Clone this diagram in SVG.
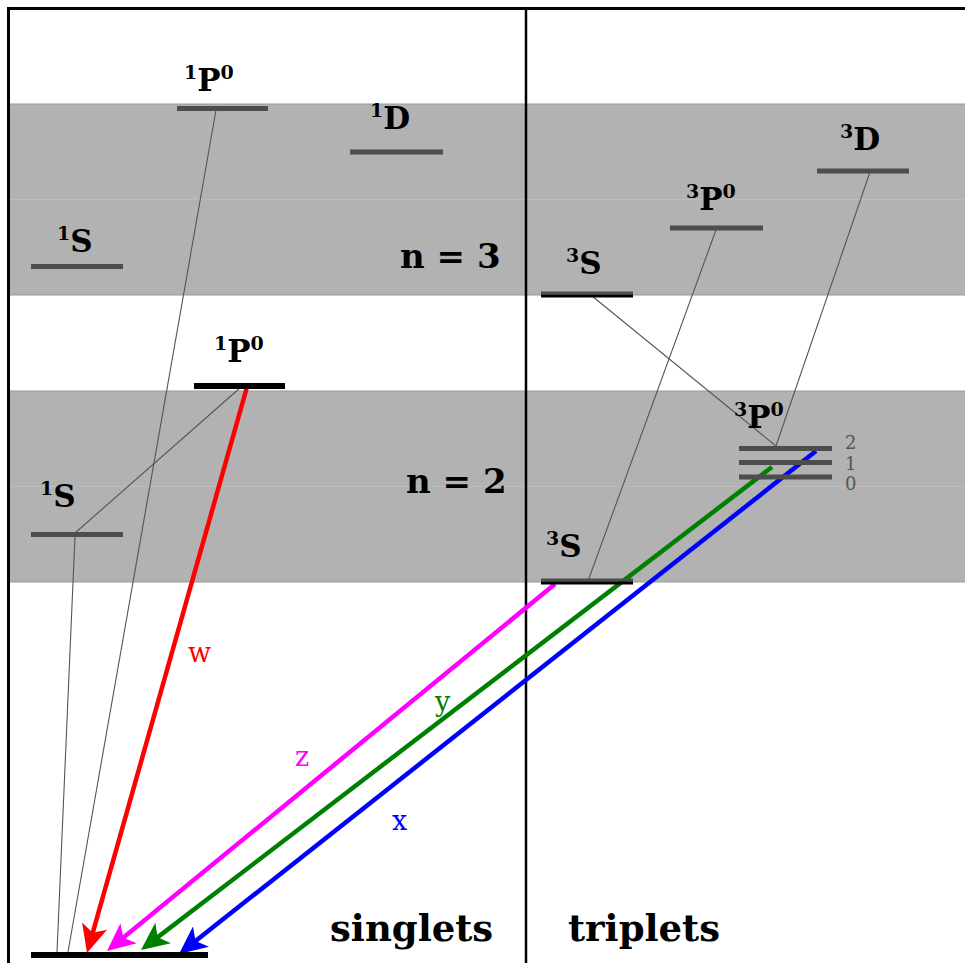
<svg xmlns="http://www.w3.org/2000/svg" width="965" height="963" viewBox="0 0 965 963">
<style>
.band{fill:#b2b2b2}
.edge{stroke:#999;stroke-width:1}
.mid{stroke:#bcbcbc;stroke-width:1}
.lvl{stroke:#4d4d4d;stroke-width:5}
.blk{stroke:#000;stroke-width:6}
.thin{stroke:#555;stroke-width:1.1;fill:none}
.lbl{font-family:"DejaVu Serif","Liberation Serif",serif;font-weight:bold;font-size:31px;fill:#000}
.sup{font-size:19px}
.big{font-family:"DejaVu Serif","Liberation Serif",serif;font-weight:bold;font-size:34px;fill:#000}
.ttl{font-family:"DejaVu Serif","Liberation Serif",serif;font-weight:bold;font-size:37px;fill:#000}
.j{font-family:"DejaVu Serif","Liberation Serif",serif;font-size:18px;fill:#555}
.tl{font-family:"DejaVu Serif","Liberation Serif",serif;font-size:27px}
.arr{stroke-width:4.5;fill:none}
</style>
<defs>
<marker id="hr" viewBox="0 0 28 26" refX="13" refY="13" markerWidth="28" markerHeight="26" markerUnits="userSpaceOnUse" orient="auto"><path d="M28,13 L0,0 L7,13 L0,26 z" fill="#f00"/></marker>
<marker id="hm" viewBox="0 0 28 26" refX="13" refY="13" markerWidth="28" markerHeight="26" markerUnits="userSpaceOnUse" orient="auto"><path d="M28,13 L0,0 L7,13 L0,26 z" fill="#f0f"/></marker>
<marker id="hg" viewBox="0 0 28 26" refX="13" refY="13" markerWidth="28" markerHeight="26" markerUnits="userSpaceOnUse" orient="auto"><path d="M28,13 L0,0 L7,13 L0,26 z" fill="#008000"/></marker>
<marker id="hb" viewBox="0 0 28 26" refX="13" refY="13" markerWidth="28" markerHeight="26" markerUnits="userSpaceOnUse" orient="auto"><path d="M28,13 L0,0 L7,13 L0,26 z" fill="#00f"/></marker>
</defs>
<rect width="965" height="963" fill="#fff"/>
<g id="bands">
<rect class="band" x="9" y="104" width="956" height="191"/>
<line class="edge" x1="9" y1="104" x2="965" y2="104"/>
<line class="edge" x1="9" y1="295" x2="965" y2="295"/>
<line class="mid" x1="9" y1="199.5" x2="965" y2="199.5"/>
<rect class="band" x="9" y="391" width="956" height="191"/>
<line class="edge" x1="9" y1="391" x2="965" y2="391"/>
<line class="edge" x1="9" y1="582" x2="965" y2="582"/>
<line class="mid" x1="9" y1="486.5" x2="965" y2="486.5"/>
</g>
<g id="frame" stroke="#000" fill="none">
<path d="M8.5,963 V8.5 H965" stroke-width="3"/>
<line x1="526" y1="8" x2="526" y2="963" stroke-width="2.5"/>
</g>
<g id="connectors">
<line class="thin" x1="216" y1="110" x2="68" y2="952"/>
<line class="thin" x1="75" y1="536" x2="57" y2="952"/>
<line class="thin" x1="240" y1="388" x2="75" y2="533"/>
<line class="thin" x1="592" y1="296" x2="776" y2="446"/>
<line class="thin" x1="870" y1="172" x2="776" y2="446"/>
<line class="thin" x1="716" y1="230" x2="588" y2="581"/>
<line class="arr" stroke="#f00" x1="247" y1="387" x2="91.1" y2="938.6" marker-end="url(#hr)"/>
<line class="arr" stroke="#f0f" x1="555" y1="584" x2="118.6" y2="941.5" marker-end="url(#hm)"/>
<line class="arr" stroke="#008000" x1="772" y1="467" x2="152.9" y2="940.9" marker-end="url(#hg)"/>
<line class="arr" stroke="#00f" x1="816" y1="451" x2="190.8" y2="944.7" marker-end="url(#hb)"/>
<text class="tl" x="188" y="662" fill="#f00">w</text>
<text class="tl" x="295" y="766" fill="#f0f">z</text>
<text class="tl" x="435" y="711" fill="#008000">y</text>
<text class="tl" x="392" y="830" fill="#00f">x</text>
</g>
<g id="s3P">
<line class="lvl" x1="177" y1="108.5" x2="268" y2="108.5"/>
<text class="lbl" x="184" y="91"><tspan class="sup" dy="-12">1</tspan><tspan dy="12">P</tspan><tspan class="sup" dy="-12">0</tspan></text>
</g>
<g id="s3D">
<line class="lvl" x1="350" y1="152" x2="443" y2="152"/>
<text class="lbl" x="370" y="129"><tspan class="sup" dy="-12">1</tspan><tspan dy="12">D</tspan></text>
</g>
<g id="s3S">
<line class="lvl" x1="31" y1="266.5" x2="123" y2="266.5"/>
<text class="lbl" x="57" y="252"><tspan class="sup" dy="-12">1</tspan><tspan dy="12">S</tspan></text>
</g>
<g id="n3label"><text class="big" x="400" y="268">n = 3</text></g>
<g id="t3S">
<line stroke="#4d4d4d" stroke-width="3" x1="541" y1="293" x2="633" y2="293"/>
<line stroke="#000" stroke-width="3" x1="541" y1="296" x2="633" y2="296"/>
<text class="lbl" x="566" y="274"><tspan class="sup" dy="-12">3</tspan><tspan dy="12">S</tspan></text>
</g>
<g id="t3P">
<line class="lvl" x1="670" y1="228" x2="763" y2="228"/>
<text class="lbl" x="686" y="210"><tspan class="sup" dy="-12">3</tspan><tspan dy="12">P</tspan><tspan class="sup" dy="-12">0</tspan></text>
</g>
<g id="t3D">
<line class="lvl" x1="817" y1="171" x2="909" y2="171"/>
<text class="lbl" x="840" y="150"><tspan class="sup" dy="-12">3</tspan><tspan dy="12">D</tspan></text>
</g>
<g id="s2P">
<line class="blk" x1="194" y1="386" x2="285" y2="386"/>
<text class="lbl" x="214" y="362"><tspan class="sup" dy="-12">1</tspan><tspan dy="12">P</tspan><tspan class="sup" dy="-12">0</tspan></text>
</g>
<g id="s2S">
<line class="lvl" x1="31" y1="534.5" x2="123" y2="534.5"/>
<text class="lbl" x="40" y="507"><tspan class="sup" dy="-12">1</tspan><tspan dy="12">S</tspan></text>
</g>
<g id="n2label"><text class="big" x="406" y="493">n = 2</text></g>
<g id="t2S">
<line stroke="#4d4d4d" stroke-width="3" x1="541" y1="580" x2="633" y2="580"/>
<line stroke="#000" stroke-width="3" x1="541" y1="583" x2="633" y2="583"/>
<text class="lbl" x="546" y="557"><tspan class="sup" dy="-12">3</tspan><tspan dy="12">S</tspan></text>
</g>
<g id="t2P">
<line class="lvl" x1="739" y1="448.5" x2="832" y2="448.5"/>
<line class="lvl" x1="739" y1="462.5" x2="832" y2="462.5"/>
<line class="lvl" x1="739" y1="477" x2="832" y2="477"/>
<text class="lbl" x="734" y="428"><tspan class="sup" dy="-12">3</tspan><tspan dy="12">P</tspan><tspan class="sup" dy="-12">0</tspan></text>
<text class="j" x="845" y="449">2</text>
<text class="j" x="845" y="470">1</text>
<text class="j" x="845" y="490">0</text>
</g>
<g id="ground">
<line stroke="#000" stroke-width="6" x1="31" y1="955" x2="208" y2="955"/>
</g>
<g id="titles">
<text class="ttl" x="330" y="941">singlets</text>
<text class="ttl" x="568" y="941">triplets</text>
</g>
</svg>
